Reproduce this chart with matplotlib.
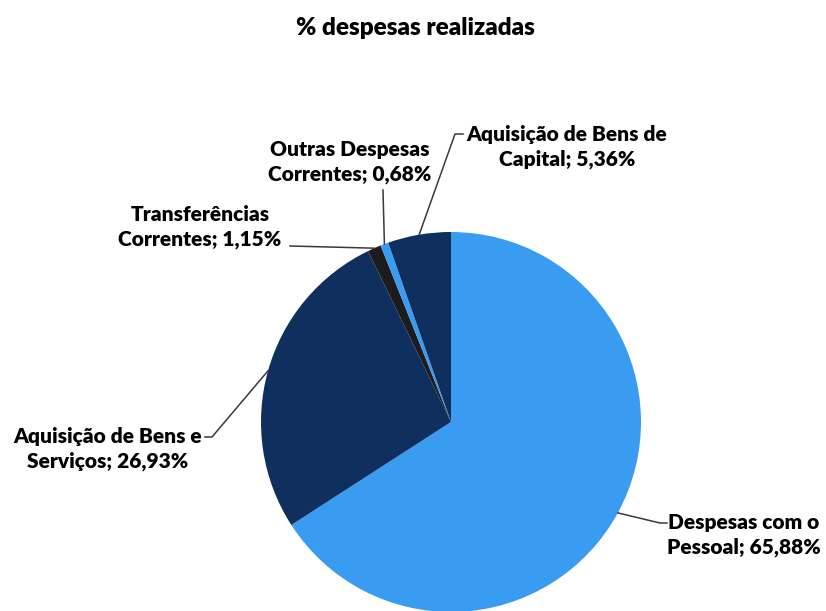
"""Pie chart: % despesas realizadas."""
import numpy as np
import matplotlib

matplotlib.use("Agg")
import matplotlib.pyplot as plt

plt.rcParams["font.family"] = ["Lato", "DejaVu Sans"]

categories = [
    "Despesas com o\nPessoal",
    "Aquisição de Bens e\nServiços",
    "Transferências\nCorrentes",
    "Outras Despesas\nCorrentes",
    "Aquisição de Bens de\nCapital",
]
values = [65.88, 26.93, 1.15, 0.68, 5.36]
value_labels = ["65,88%", "26,93%", "1,15%", "0,68%", "5,36%"]
colors = ["#3a9cf0", "#0f2f5f", "#1c1c1e", "#3a9cf0", "#0f2f5f"]

W, H = 826, 611
CX, CY, R = 451, 422, 190


def px(x, y):
    # pixel (from top-left) -> data coords of the pie axes
    return (x - CX) / R, (CY - y) / R


# label text centre and leader polyline (elbow points, pixels)
text_pos = [(744, 535), (108, 449), (200, 227), (350, 162), (567, 147)]
elbows = [
    [(660, 523), (667, 523)],
    [(212, 437), (205, 437)],
    [(290, 246)],
    [(383, 190)],
    [(455, 134), (463, 134)],
]

fig = plt.figure(figsize=(W / 100, H / 100), dpi=100)
ax = fig.add_axes([(CX - R) / W, (H - CY - R) / H, 2 * R / W, 2 * R / H])
ax.axis("off")

wedges, _ = ax.pie(values, colors=colors, startangle=90, counterclock=False,
                   radius=1, wedgeprops=dict(linewidth=0))
ax.set_xlim(-1, 1)
ax.set_ylim(-1, 1)
ax.set_aspect("equal")

for w, (tx, ty), elb, cat, lab in zip(wedges, text_pos, elbows, categories, value_labels):
    mid = np.deg2rad((w.theta1 + w.theta2) / 2)
    pts = [(np.cos(mid), np.sin(mid))] + [px(*p) for p in elb]
    xs, ys = zip(*pts)
    ax.plot(xs, ys, color="#3a3a3a", lw=1.1, clip_on=False)
    ax.text(*px(tx, ty), f"{cat}; {lab}", ha="center", va="center",
            fontsize=15, fontweight="heavy", linespacing=1.3, clip_on=False)

fig.text(415 / W, 1 - 28 / H, "% despesas realizadas", ha="center", va="center",
         fontsize=17.5, fontweight="heavy")

fig.savefig("out.png", dpi=100)
